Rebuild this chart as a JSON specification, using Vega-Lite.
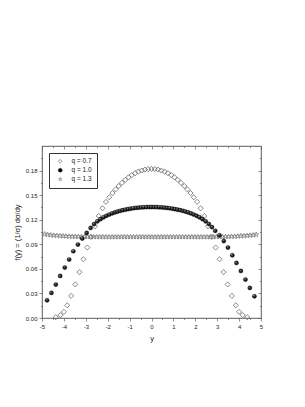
{
"$schema": "https://vega.github.io/schema/vega-lite/v6.json",
"width": 219, "height": 172,
"autosize": "none",
"padding": {"left": 42, "top": 146, "right": 44, "bottom": 89},
"background": "white",
"config": {
  "view": {"stroke": "#333", "strokeWidth": 0.8},
  "font": "Liberation Sans",
  "axis": {"domain": false, "grid": false, "labelFont": "Liberation Sans", "labelFontSize": 6, "labelColor": "#222", "tickColor": "#444", "tickWidth": 0.6, "titleFont": "Liberation Sans", "titleFontSize": 7.5, "titleFontWeight": "normal", "titleColor": "#222"}
},
"data": {"values": [
{"s":"q = 0.7","x":-4.37,"y":0.001},{"s":"q = 0.7","x":-4.16,"y":0.0035},{"s":"q = 0.7","x":-4.0,"y":0.0075},{"s":"q = 0.7","x":-3.85,"y":0.0155},{"s":"q = 0.7","x":-3.67,"y":0.027},{"s":"q = 0.7","x":-3.48,"y":0.041},{"s":"q = 0.7","x":-3.29,"y":0.056},{"s":"q = 0.7","x":-3.11,"y":0.0717},{"s":"q = 0.7","x":-2.93,"y":0.086},{"s":"q = 0.7","x":-2.76,"y":0.099},{"s":"q = 0.7","x":-2.58,"y":0.112},{"s":"q = 0.7","x":-2.41,"y":0.1245},{"s":"q = 0.7","x":-2.24,"y":0.134},{"s":"q = 0.7","x":-2.08,"y":0.1418},{"s":"q = 0.7","x":-1.93,"y":0.1474},{"s":"q = 0.7","x":-1.78,"y":0.1525},{"s":"q = 0.7","x":-1.64,"y":0.157},{"s":"q = 0.7","x":-1.5,"y":0.1611},{"s":"q = 0.7","x":-1.35,"y":0.165},{"s":"q = 0.7","x":-1.2,"y":0.1686},{"s":"q = 0.7","x":-1.05,"y":0.1718},{"s":"q = 0.7","x":-0.9,"y":0.1745},{"s":"q = 0.7","x":-0.75,"y":0.1768},{"s":"q = 0.7","x":-0.6,"y":0.1787},{"s":"q = 0.7","x":-0.45,"y":0.1801},{"s":"q = 0.7","x":-0.3,"y":0.1812},{"s":"q = 0.7","x":-0.15,"y":0.1818},{"s":"q = 0.7","x":0,"y":0.182},
{"s":"q = 0.7","x":0.15,"y":0.1818},{"s":"q = 0.7","x":0.3,"y":0.1812},{"s":"q = 0.7","x":0.45,"y":0.1801},{"s":"q = 0.7","x":0.6,"y":0.1787},{"s":"q = 0.7","x":0.75,"y":0.1768},{"s":"q = 0.7","x":0.9,"y":0.1745},{"s":"q = 0.7","x":1.05,"y":0.1718},{"s":"q = 0.7","x":1.2,"y":0.1686},{"s":"q = 0.7","x":1.35,"y":0.165},{"s":"q = 0.7","x":1.5,"y":0.1611},{"s":"q = 0.7","x":1.64,"y":0.157},{"s":"q = 0.7","x":1.78,"y":0.1525},{"s":"q = 0.7","x":1.93,"y":0.1474},{"s":"q = 0.7","x":2.08,"y":0.1418},{"s":"q = 0.7","x":2.24,"y":0.134},{"s":"q = 0.7","x":2.41,"y":0.1245},{"s":"q = 0.7","x":2.58,"y":0.112},{"s":"q = 0.7","x":2.76,"y":0.099},{"s":"q = 0.7","x":2.93,"y":0.086},{"s":"q = 0.7","x":3.11,"y":0.0717},{"s":"q = 0.7","x":3.29,"y":0.056},{"s":"q = 0.7","x":3.48,"y":0.041},{"s":"q = 0.7","x":3.67,"y":0.027},{"s":"q = 0.7","x":3.85,"y":0.0155},{"s":"q = 0.7","x":4.0,"y":0.0075},{"s":"q = 0.7","x":4.16,"y":0.0035},{"s":"q = 0.7","x":4.37,"y":0.001},
{"s":"q = 1.3","x":-4.88,"y":0.1025},{"s":"q = 1.3","x":-4.74,"y":0.1018},{"s":"q = 1.3","x":-4.6,"y":0.1013},{"s":"q = 1.3","x":-4.46,"y":0.1009},{"s":"q = 1.3","x":-4.32,"y":0.1006},{"s":"q = 1.3","x":-4.18,"y":0.1003},{"s":"q = 1.3","x":-4.04,"y":0.1001},{"s":"q = 1.3","x":-3.9,"y":0.0999},{"s":"q = 1.3","x":-3.76,"y":0.0997},{"s":"q = 1.3","x":-3.62,"y":0.0995},{"s":"q = 1.3","x":-3.48,"y":0.0994},{"s":"q = 1.3","x":-3.34,"y":0.0993},{"s":"q = 1.3","x":-3.2,"y":0.0992},{"s":"q = 1.3","x":-3.06,"y":0.0992},{"s":"q = 1.3","x":-2.92,"y":0.0991},{"s":"q = 1.3","x":-2.78,"y":0.0991},{"s":"q = 1.3","x":-2.64,"y":0.0991},{"s":"q = 1.3","x":-2.5,"y":0.099},{"s":"q = 1.3","x":-2.36,"y":0.099},{"s":"q = 1.3","x":-2.22,"y":0.099},{"s":"q = 1.3","x":-2.08,"y":0.099},{"s":"q = 1.3","x":-1.94,"y":0.099},{"s":"q = 1.3","x":-1.8,"y":0.099},{"s":"q = 1.3","x":-1.66,"y":0.099},{"s":"q = 1.3","x":-1.52,"y":0.099},{"s":"q = 1.3","x":-1.38,"y":0.099},{"s":"q = 1.3","x":-1.24,"y":0.099},{"s":"q = 1.3","x":-1.1,"y":0.099},{"s":"q = 1.3","x":-0.96,"y":0.099},{"s":"q = 1.3","x":-0.82,"y":0.099},{"s":"q = 1.3","x":-0.68,"y":0.099},{"s":"q = 1.3","x":-0.54,"y":0.099},{"s":"q = 1.3","x":-0.4,"y":0.099},{"s":"q = 1.3","x":-0.26,"y":0.099},{"s":"q = 1.3","x":-0.12,"y":0.099},{"s":"q = 1.3","x":0.02,"y":0.099},{"s":"q = 1.3","x":0.16,"y":0.099},{"s":"q = 1.3","x":0.3,"y":0.099},{"s":"q = 1.3","x":0.44,"y":0.099},{"s":"q = 1.3","x":0.58,"y":0.099},{"s":"q = 1.3","x":0.72,"y":0.099},{"s":"q = 1.3","x":0.86,"y":0.099},{"s":"q = 1.3","x":1.0,"y":0.099},{"s":"q = 1.3","x":1.14,"y":0.099},{"s":"q = 1.3","x":1.28,"y":0.099},{"s":"q = 1.3","x":1.42,"y":0.099},{"s":"q = 1.3","x":1.56,"y":0.099},{"s":"q = 1.3","x":1.7,"y":0.099},{"s":"q = 1.3","x":1.84,"y":0.099},{"s":"q = 1.3","x":1.98,"y":0.099},{"s":"q = 1.3","x":2.12,"y":0.099},{"s":"q = 1.3","x":2.26,"y":0.099},{"s":"q = 1.3","x":2.4,"y":0.099},{"s":"q = 1.3","x":2.54,"y":0.099},{"s":"q = 1.3","x":2.68,"y":0.0991},{"s":"q = 1.3","x":2.82,"y":0.0991},{"s":"q = 1.3","x":2.96,"y":0.0991},{"s":"q = 1.3","x":3.1,"y":0.0992},{"s":"q = 1.3","x":3.24,"y":0.0992},{"s":"q = 1.3","x":3.38,"y":0.0993},{"s":"q = 1.3","x":3.52,"y":0.0994},{"s":"q = 1.3","x":3.66,"y":0.0995},{"s":"q = 1.3","x":3.8,"y":0.0997},{"s":"q = 1.3","x":3.94,"y":0.0999},{"s":"q = 1.3","x":4.08,"y":0.1001},{"s":"q = 1.3","x":4.22,"y":0.1003},{"s":"q = 1.3","x":4.36,"y":0.1006},{"s":"q = 1.3","x":4.5,"y":0.1009},{"s":"q = 1.3","x":4.64,"y":0.1013},{"s":"q = 1.3","x":4.78,"y":0.1018},
{"s":"q = 1.0","x":-4.77,"y":0.0216},{"s":"q = 1.0","x":-4.57,"y":0.0306},{"s":"q = 1.0","x":-4.37,"y":0.0408},{"s":"q = 1.0","x":-4.17,"y":0.0513},{"s":"q = 1.0","x":-3.96,"y":0.0616},{"s":"q = 1.0","x":-3.76,"y":0.0713},{"s":"q = 1.0","x":-3.57,"y":0.0815},{"s":"q = 1.0","x":-3.36,"y":0.0897},{"s":"q = 1.0","x":-3.16,"y":0.097},{"s":"q = 1.0","x":-2.96,"y":0.1039},{"s":"q = 1.0","x":-2.78,"y":0.110},{"s":"q = 1.0","x":-2.62,"y":0.1147},{"s":"q = 1.0","x":-2.47,"y":0.118},{"s":"q = 1.0","x":-2.33,"y":0.1207},{"s":"q = 1.0","x":-2.19,"y":0.1229},{"s":"q = 1.0","x":-2.06,"y":0.1247},{"s":"q = 1.0","x":-1.93,"y":0.1263},{"s":"q = 1.0","x":-1.8,"y":0.1277},{"s":"q = 1.0","x":-1.67,"y":0.1289},{"s":"q = 1.0","x":-1.55,"y":0.1299},{"s":"q = 1.0","x":-1.43,"y":0.1308},{"s":"q = 1.0","x":-1.31,"y":0.1316},{"s":"q = 1.0","x":-1.19,"y":0.1323},{"s":"q = 1.0","x":-1.07,"y":0.1329},{"s":"q = 1.0","x":-0.95,"y":0.1335},{"s":"q = 1.0","x":-0.83,"y":0.134},{"s":"q = 1.0","x":-0.71,"y":0.1344},{"s":"q = 1.0","x":-0.59,"y":0.1347},{"s":"q = 1.0","x":-0.47,"y":0.135},{"s":"q = 1.0","x":-0.35,"y":0.1352},{"s":"q = 1.0","x":-0.23,"y":0.1354},{"s":"q = 1.0","x":-0.11,"y":0.1355},{"s":"q = 1.0","x":0.0,"y":0.1355},{"s":"q = 1.0","x":0.11,"y":0.1355},{"s":"q = 1.0","x":0.23,"y":0.1354},{"s":"q = 1.0","x":0.35,"y":0.1352},{"s":"q = 1.0","x":0.47,"y":0.135},{"s":"q = 1.0","x":0.59,"y":0.1347},{"s":"q = 1.0","x":0.71,"y":0.1344},{"s":"q = 1.0","x":0.83,"y":0.134},{"s":"q = 1.0","x":0.95,"y":0.1335},{"s":"q = 1.0","x":1.07,"y":0.1329},{"s":"q = 1.0","x":1.19,"y":0.1323},{"s":"q = 1.0","x":1.31,"y":0.1316},{"s":"q = 1.0","x":1.43,"y":0.1308},{"s":"q = 1.0","x":1.55,"y":0.1299},{"s":"q = 1.0","x":1.67,"y":0.1289},{"s":"q = 1.0","x":1.8,"y":0.1277},{"s":"q = 1.0","x":1.93,"y":0.1263},{"s":"q = 1.0","x":2.06,"y":0.1247},{"s":"q = 1.0","x":2.19,"y":0.1229},{"s":"q = 1.0","x":2.33,"y":0.1207},{"s":"q = 1.0","x":2.47,"y":0.118},{"s":"q = 1.0","x":2.62,"y":0.1147},{"s":"q = 1.0","x":2.76,"y":0.111},{"s":"q = 1.0","x":2.91,"y":0.1065},{"s":"q = 1.0","x":3.1,"y":0.101},{"s":"q = 1.0","x":3.3,"y":0.094},{"s":"q = 1.0","x":3.49,"y":0.086},{"s":"q = 1.0","x":3.69,"y":0.0766},{"s":"q = 1.0","x":3.88,"y":0.0672},{"s":"q = 1.0","x":4.08,"y":0.0574},{"s":"q = 1.0","x":4.29,"y":0.0469},{"s":"q = 1.0","x":4.49,"y":0.0367},{"s":"q = 1.0","x":4.7,"y":0.0265}
]},
"layer": [
  {
    "transform": [{"filter": "datum.s != 'q = 1.0'"}],
    "mark": {"type": "point", "filled": true, "size": 26, "strokeWidth": 0.7, "opacity": 1},
    "encoding": {
      "x": {"field": "x", "type": "quantitative", "scale": {"domain": [-5, 5], "nice": false, "zero": false},
        "axis": {"orient": "bottom", "title": "y", "values": [-5,-4.5,-4,-3.5,-3,-2.5,-2,-1.5,-1,-0.5,0,0.5,1,1.5,2,2.5,3,3.5,4,4.5,5],
          "labelExpr": "datum.value % 1 == 0 ? '' + datum.value : ''",
          "tickSize": {"condition": {"test": "datum.value % 1 == 0", "value": 3}, "value": 1.5},
          "labelPadding": 2, "titlePadding": 5, "labelFlush": false}},
      "y": {"field": "y", "type": "quantitative", "scale": {"domain": [0, 0.21], "nice": false, "zero": false},
        "axis": {"orient": "left", "title": "f(y) = (1/σ) dσ/dy", "values": [0,0.015,0.03,0.045,0.06,0.075,0.09,0.105,0.12,0.135,0.15,0.165,0.18,0.195],
          "labelExpr": "abs(datum.value*100/3 - round(datum.value*100/3)) < 0.01 ? format(datum.value, '.2f') : ''",
          "tickSize": {"condition": {"test": "abs(datum.value*100/3 - round(datum.value*100/3)) < 0.01", "value": 3}, "value": 1.5},
          "labelPadding": 2, "titlePadding": 4, "labelFlush": false}},
      "shape": {"field": "s", "type": "nominal",
        "scale": {"domain": ["q = 0.7", "q = 1.0", "q = 1.3"], "range": ["diamond", "circle", "M0,-1L0.22,-0.31L0.95,-0.31L0.36,0.12L0.59,0.81L0,0.38L-0.59,0.81L-0.36,0.12L-0.95,-0.31L-0.22,-0.31Z"]},
        "legend": {"orient": "none", "legendX": 7, "legendY": 7, "title": null, "strokeColor": "#333", "fillColor": "white", "padding": 5, "labelFont": "Liberation Sans", "labelFontSize": 6.5, "labelColor": "#222", "symbolSize": 14, "symbolStrokeWidth": 0.6, "labelOffset": 8, "rowPadding": 2, "symbolOffset": 3}},
      "fill": {"field": "s", "type": "nominal", "scale": {"domain": ["q = 0.7", "q = 1.0", "q = 1.3"], "range": ["transparent", "#000", "transparent"]}},
      "stroke": {"field": "s", "type": "nominal", "scale": {"domain": ["q = 0.7", "q = 1.0", "q = 1.3"], "range": ["#555", "#000", "#777"]}}
    }
  },
  {
    "transform": [{"filter": "datum.s == 'q = 1.0'"}],
    "mark": {"type": "point", "shape": "circle", "filled": true, "size": 18, "strokeWidth": 0.3, "stroke": "#000", "opacity": 1,
      "fill": {"gradient": "radial", "x1": 0.35, "y1": 0.3, "r1": 0, "x2": 0.5, "y2": 0.5, "r2": 0.55,
        "stops": [{"offset": 0, "color": "#d8d8d8"}, {"offset": 0.35, "color": "#333"}, {"offset": 1, "color": "#000"}]}},
    "encoding": {
      "x": {"field": "x", "type": "quantitative",
        "axis": {"orient": "top", "title": null, "labels": false, "values": [-5,-4.5,-4,-3.5,-3,-2.5,-2,-1.5,-1,-0.5,0,0.5,1,1.5,2,2.5,3,3.5,4,4.5,5],
          "tickSize": {"condition": {"test": "datum.value % 1 == 0", "value": -3}, "value": -1.5}}},
      "y": {"field": "y", "type": "quantitative",
        "axis": {"orient": "right", "title": null, "labels": false, "values": [0,0.015,0.03,0.045,0.06,0.075,0.09,0.105,0.12,0.135,0.15,0.165,0.18,0.195],
          "tickSize": {"condition": {"test": "abs(datum.value*100/3 - round(datum.value*100/3)) < 0.01", "value": -3}, "value": -1.5}}}
    }
  }
],
"resolve": {"axis": {"x": "independent", "y": "independent"}}
}
